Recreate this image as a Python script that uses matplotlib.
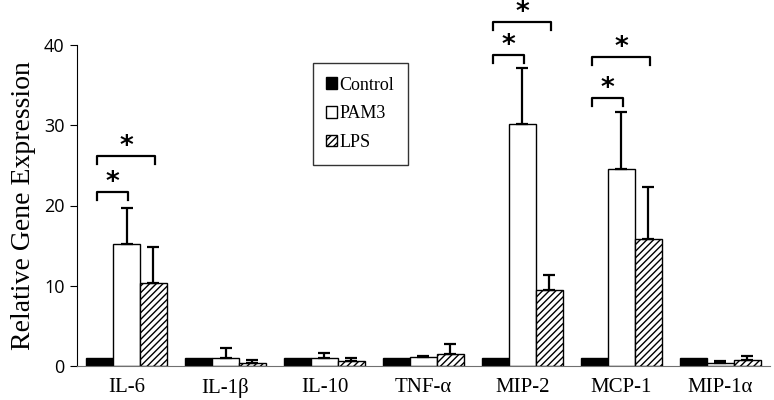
import matplotlib.pyplot as plt
import numpy as np

# gene names and group data
genes = ['IL-6', 'IL-1β', 'IL-10', 'TNF-α', 'MIP-2', 'MCP-1', 'MIP-1α']
control = [1.0, 1.0, 1.0, 1.0, 1.0, 1.0, 1.0]
pam3 = [15.2, 1.0, 1.0, 1.1, 30.2, 24.6, 0.4]
pam3_err = [4.5, 1.3, 0.6, 0.2, 6.9, 7.1, 0.2]
lps = [10.3, 0.4, 0.6, 1.5, 9.5, 15.8, 0.8]
lps_err = [4.5, 0.3, 0.4, 1.3, 1.8, 6.5, 0.4]

# significance brackets: (gene index, from group, to group, height)
brackets = [(0, 0, 1, 21.7), (0, 0, 2, 26.2),
            (4, 0, 1, 38.8), (4, 0, 2, 42.9),
            (5, 0, 1, 33.4), (5, 0, 2, 38.5)]

serif = 'Liberation Serif'

fig = plt.figure(figsize=(7.74, 4.0), dpi=100)
ax = fig.add_axes([0.0995, 0.085, 0.8953, 0.8025])

x = np.arange(len(genes))
w = 0.27
offs = [-w, 0, w]

ax.bar(x + offs[0], control, w, color='black', edgecolor='black', linewidth=1, label='Control', zorder=2)
ax.bar(x + offs[1], pam3, w, color='white', edgecolor='black', linewidth=1, label='PAM3', zorder=2)
ax.bar(x + offs[2], lps, w, color='white', edgecolor='black', linewidth=1, hatch='/////', label='LPS', zorder=2)

ekw = dict(fmt='none', ecolor='black', elinewidth=1.6, capsize=4, capthick=1.6, zorder=3)
ax.errorbar(x + offs[1], pam3, yerr=[np.zeros(len(pam3)), pam3_err], **ekw)
ax.errorbar(x + offs[2], lps, yerr=[np.zeros(len(lps)), lps_err], **ekw)

for g, a, b, h in brackets:
    x0 = g + offs[a] - 0.03
    x1 = g + offs[b] + 0.02
    ax.plot([x0, x0, x1, x1], [h - 1.0, h, h, h - 1.0], color='black', lw=1.6,
            clip_on=False, solid_joinstyle='round')
    ax.text((x0 + x1) / 2, h + 1.1, '*', ha='center', va='center', fontsize=19,
            fontweight='bold', family='DejaVu Sans', clip_on=False)

ax.set_xlim(-0.5, 6.5)
ax.set_ylim(0, 40)
ax.set_yticks([0, 10, 20, 30, 40])
ax.set_xticks(x)
ax.set_xticklabels(genes, family=serif, fontsize=15)
ax.tick_params(axis='x', length=0, pad=9)
ax.tick_params(axis='y', length=5, pad=4, labelsize=13, direction='out')
for lab in ax.get_yticklabels():
    lab.set_family('Open Sans')
ax.set_ylabel('Relative Gene Expression', family=serif, fontsize=20, labelpad=6)

ax.spines['top'].set_visible(False)
ax.spines['right'].set_visible(False)
ax.spines['bottom'].set_color('#707070')

leg = ax.legend(loc='upper left', bbox_to_anchor=(0.34, 0.944), prop={'family': serif, 'size': 13},
                frameon=True, fancybox=False, edgecolor='black', handlelength=0.6, handleheight=0.6,
                handletextpad=0.15, labelspacing=0.65, borderpad=0.75, borderaxespad=0)
leg.get_frame().set_linewidth(1)

plt.savefig('out.png', dpi=100)
